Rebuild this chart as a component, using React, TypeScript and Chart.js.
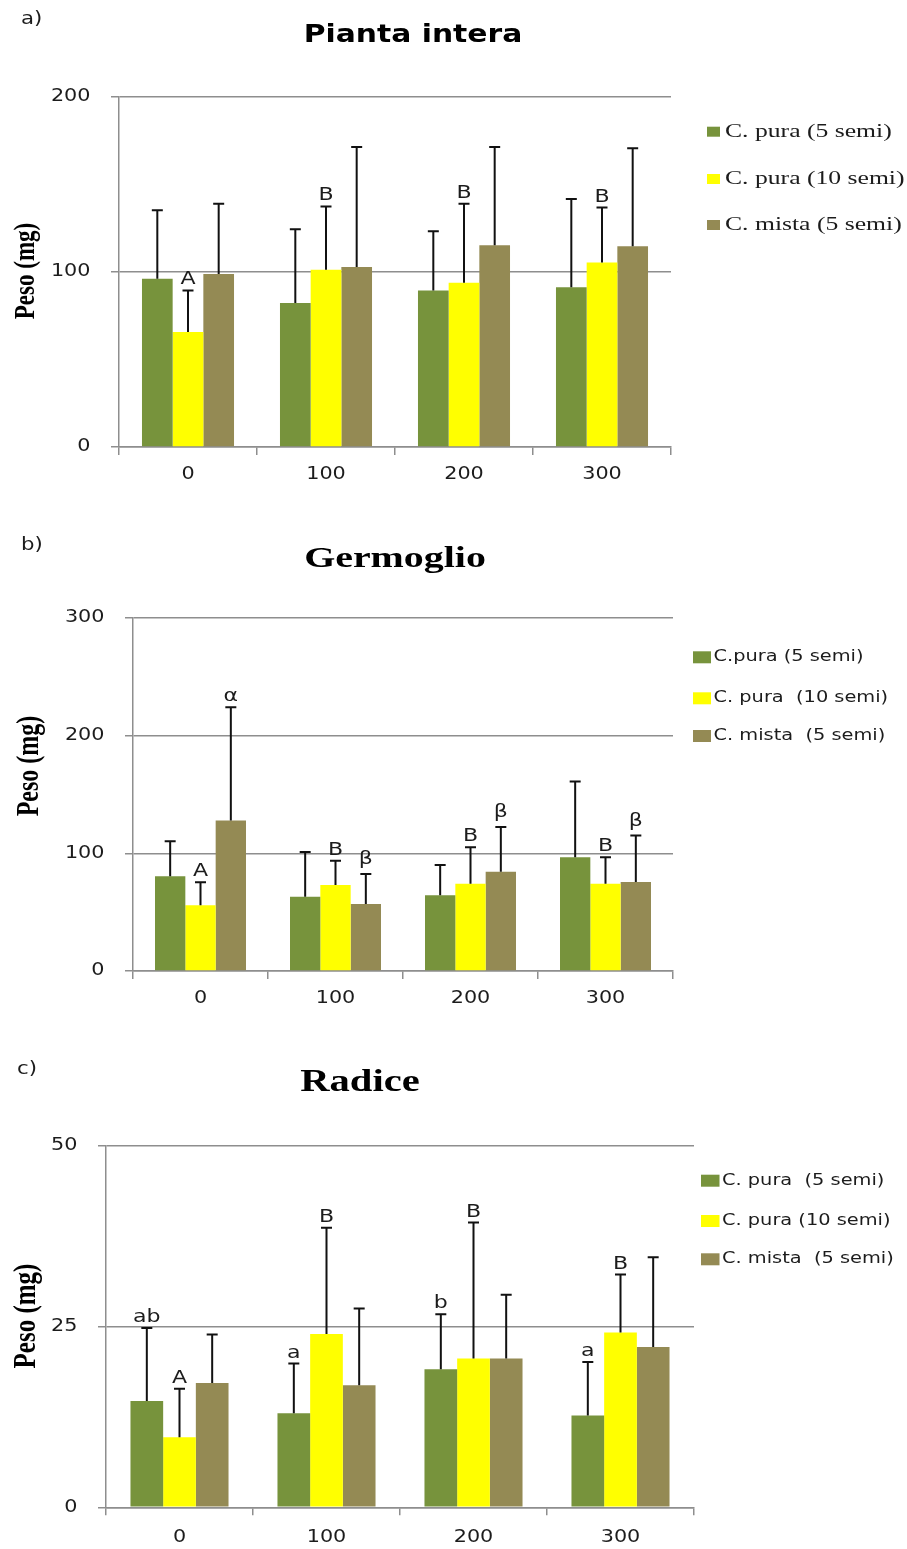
import React, { useEffect, useRef } from 'react';
import { Chart, registerables } from 'chart.js';

Chart.register(...registerables);

// Doses on the x axis
const CATEGORIES = ['0', '100', '200', '300'];

// a) Pianta intera — mean weight (mg) and standard deviation
const INTERA_PURA5 = [96.2, 82.3, 89.5, 91.3];
const INTERA_PURA5_SD = [39.1, 42.1, 33.8, 50.4];
const INTERA_PURA10 = [65.7, 101.3, 93.9, 105.4];
const INTERA_PURA10_SD = [23.8, 36.2, 45.1, 31.4];
const INTERA_MISTA = [98.9, 102.9, 115.3, 114.7];
const INTERA_MISTA_SD = [40.1, 68.5, 56.1, 56.0];
const INTERA_PURA10_LETTERS = ['A', 'B', 'B', 'B'];
const INTERA_Y_MAX = 200;
const INTERA_Y_STEP = 100;

// b) Germoglio
const GERM_PURA5 = [80.5, 63.2, 64.4, 96.7];
const GERM_PURA5_SD = [29.8, 38.0, 25.7, 64.3];
const GERM_PURA10 = [55.9, 73.1, 74.2, 74.2];
const GERM_PURA10_SD = [19.5, 20.7, 31.0, 22.5];
const GERM_MISTA = [127.8, 57.0, 84.4, 75.7];
const GERM_MISTA_SD = [96.4, 25.5, 38.0, 39.4];
const GERM_PURA10_LETTERS = ['A', 'B', 'B', 'B'];
const GERM_MISTA_LETTERS = ['α', 'β', 'β', 'β'];
const GERM_Y_MAX = 300;
const GERM_Y_STEP = 100;

// c) Radice
const RAD_PURA5 = [14.7, 13.0, 19.1, 12.7];
const RAD_PURA5_SD = [10.1, 6.9, 7.6, 7.4];
const RAD_PURA10 = [9.7, 24.0, 20.6, 24.2];
const RAD_PURA10_SD = [6.7, 14.7, 18.8, 8.0];
const RAD_MISTA = [17.2, 16.9, 20.6, 22.2];
const RAD_MISTA_SD = [6.7, 10.6, 8.8, 12.4];
const RAD_PURA5_LETTERS = ['ab', 'a', 'b', 'a'];
const RAD_PURA10_LETTERS = ['A', 'B', 'B', 'B'];
const RAD_Y_MAX = 50;
const RAD_Y_STEP = 25;

// Series names as written in each legend
const NAMES_A = ['C. pura (5 semi)', 'C. pura (10 semi)', 'C. mista (5 semi)'];
const NAMES_B = ['C.pura (5 semi)', 'C. pura  (10 semi)', 'C. mista  (5 semi)'];
const NAMES_C = ['C. pura  (5 semi)', 'C. pura (10 semi)', 'C. mista  (5 semi)'];

const COLORS = ['#77933C', '#FFFF00', '#948A54'];
const GRID = '#8e8e8e';
const INK = '#1c1c1c';
const W = 907;

const SANS = '"DejaVu Sans", sans-serif';
const SERIF = '"Liberation Serif", "DejaVu Serif", serif';

function drawText(
  ctx: CanvasRenderingContext2D,
  text: string,
  x: number,
  y: number,
  font: string,
  sx: number,
  align: 'left' | 'center' | 'right',
  baseline: CanvasTextBaseline,
  color: string
) {
  ctx.save();
  ctx.font = font;
  ctx.fillStyle = color;
  ctx.textBaseline = baseline;
  ctx.textAlign = 'left';
  const w = ctx.measureText(text).width * sx;
  const x0 = align === 'left' ? x : align === 'center' ? x - w / 2 : x - w;
  ctx.translate(x0, y);
  ctx.scale(sx, 1);
  ctx.fillText(text, 0, 0);
  ctx.restore();
}

const LETTER_FONT = `17px ${SANS}`;

// Error bars, significance letters, axis labels, titles and legend
const panelDecor = {
  id: 'panelDecor',
  afterDatasetsDraw(chart: any) {
    const ctx = chart.ctx as CanvasRenderingContext2D;
    const ys = chart.scales.y;
    chart.data.datasets.forEach((ds: any, i: number) => {
      const meta = chart.getDatasetMeta(i);
      meta.data.forEach((bar: any, j: number) => {
        const top = ys.getPixelForValue(ds.data[j] + ds.sd[j]);
        ctx.save();
        ctx.strokeStyle = '#111';
        ctx.lineWidth = 2;
        ctx.beginPath();
        ctx.moveTo(bar.x, bar.y);
        ctx.lineTo(bar.x, top);
        ctx.moveTo(bar.x - 5.5, top);
        ctx.lineTo(bar.x + 5.5, top);
        ctx.stroke();
        ctx.restore();
        const letter = ds.letters ? ds.letters[j] : '';
        if (letter) {
          ctx.save();
          ctx.font = LETTER_FONT;
          ctx.textBaseline = 'alphabetic';
          const desc = Math.max(0, ctx.measureText(letter).actualBoundingBoxDescent);
          ctx.restore();
          drawText(ctx, letter, bar.x, top - 6 - desc, LETTER_FONT, 1.3, 'center', 'alphabetic', INK);
        }
      });
    });
  },
  afterDraw(chart: any, _args: any, o: any) {
    const ctx = chart.ctx as CanvasRenderingContext2D;
    const ca = chart.chartArea;
    const ys = chart.scales.y;
    const xs = chart.scales.x;

    // tick labels
    ys.ticks.forEach((t: any) => {
      drawText(ctx, String(t.value), ca.left - 28.5, ys.getPixelForValue(t.value), `17px ${SANS}`, 1.22, 'right', 'middle', INK);
    });
    chart.data.labels.forEach((lab: string, i: number) => {
      drawText(ctx, lab, xs.getPixelForValue(i), ca.bottom + o.xTickGap, `17px ${SANS}`, 1.22, 'center', 'middle', INK);
    });

    // panel letter
    drawText(ctx, o.panel, o.panelX, o.panelY, `17px ${SANS}`, 1.25, 'left', 'middle', INK);

    // title
    drawText(ctx, o.title, o.titleX, o.titleY, o.titleFont, o.titleSx, 'center', 'alphabetic', '#000');

    // y-axis label, rotated
    ctx.save();
    ctx.translate(o.yLabelX, o.yLabelY);
    ctx.scale(1.3, 1);
    ctx.rotate(-Math.PI / 2);
    ctx.font = o.yLabelFont;
    ctx.fillStyle = '#000';
    ctx.textAlign = 'center';
    ctx.textBaseline = 'middle';
    ctx.fillText('Peso (mg)', 0, 0);
    ctx.restore();

    // legend
    chart.data.datasets.forEach((ds: any, i: number) => {
      const cy = o.legendY[i];
      ctx.fillStyle = ds.backgroundColor;
      ctx.fillRect(o.legendBoxX, cy - o.legendBoxH / 2, o.legendBoxW, o.legendBoxH);
      drawText(ctx, ds.label, o.legendTextX, cy, o.legendFont, o.legendSx, 'left', 'middle', INK);
    });
  },
};

type PanelSpec = {
  top: number;
  height: number;
  area: { left: number; right: number; top: number; bottom: number };
  yMax: number;
  yStep: number;
  names: string[];
  values: number[][];
  sds: number[][];
  letters: (string[] | null)[];
  barGroup: number;
  decor: any;
};

const PANELS: PanelSpec[] = [
  {
    top: 0,
    height: 510,
    area: { left: 119, right: 671, top: 97, bottom: 447 },
    yMax: INTERA_Y_MAX,
    yStep: INTERA_Y_STEP,
    names: NAMES_A,
    values: [INTERA_PURA5, INTERA_PURA10, INTERA_MISTA],
    sds: [INTERA_PURA5_SD, INTERA_PURA10_SD, INTERA_MISTA_SD],
    letters: [null, INTERA_PURA10_LETTERS, null],
    barGroup: 0.667,
    decor: {
      panel: 'a)', panelX: 21, panelY: 20,
      title: 'Pianta intera', titleX: 413, titleY: 42, titleFont: `bold 24px ${SANS}`, titleSx: 1.24,
      yLabelX: 26, yLabelY: 271, yLabelFont: `bold 23px ${SERIF}`,
      xTickGap: 28,
      legendY: [131.7, 179, 225], legendBoxX: 707, legendBoxW: 13, legendBoxH: 10,
      legendTextX: 725, legendFont: `19px ${SERIF}`, legendSx: 1.35,
    },
  },
  {
    top: 510,
    height: 520,
    area: { left: 133, right: 673, top: 108, bottom: 461 },
    yMax: GERM_Y_MAX,
    yStep: GERM_Y_STEP,
    names: NAMES_B,
    values: [GERM_PURA5, GERM_PURA10, GERM_MISTA],
    sds: [GERM_PURA5_SD, GERM_PURA10_SD, GERM_MISTA_SD],
    letters: [null, GERM_PURA10_LETTERS, GERM_MISTA_LETTERS],
    barGroup: 0.674,
    decor: {
      panel: 'b)', panelX: 21, panelY: 36,
      title: 'Germoglio', titleX: 395, titleY: 56.7, titleFont: `bold 30px ${SERIF}`, titleSx: 1.33,
      yLabelX: 30, yLabelY: 256, yLabelFont: `bold 24px ${SERIF}`,
      xTickGap: 28,
      legendY: [147.3, 188.3, 226], legendBoxX: 693, legendBoxW: 18, legendBoxH: 12,
      legendTextX: 713.5, legendFont: `16px ${SANS}`, legendSx: 1.21,
    },
  },
  {
    top: 1030,
    height: 519,
    area: { left: 106, right: 694, top: 116, bottom: 477.3 },
    yMax: RAD_Y_MAX,
    yStep: RAD_Y_STEP,
    names: NAMES_C,
    values: [RAD_PURA5, RAD_PURA10, RAD_MISTA],
    sds: [RAD_PURA5_SD, RAD_PURA10_SD, RAD_MISTA_SD],
    letters: [RAD_PURA5_LETTERS, RAD_PURA10_LETTERS, null],
    barGroup: 0.667,
    decor: {
      panel: 'c)', panelX: 17, panelY: 40,
      title: 'Radice', titleX: 360, titleY: 60.7, titleFont: `bold 31px ${SERIF}`, titleSx: 1.31,
      yLabelX: 27, yLabelY: 286, yLabelFont: `bold 25px ${SERIF}`,
      xTickGap: 30,
      legendY: [150.7, 191, 229.3], legendBoxX: 701, legendBoxW: 18.5, legendBoxH: 12,
      legendTextX: 722, legendFont: `16px ${SANS}`, legendSx: 1.21,
    },
  },
];

function makeConfig(p: PanelSpec): any {
  const a = p.area;
  return {
    type: 'bar',
    data: {
      labels: CATEGORIES,
      datasets: p.values.map((vals, i) => ({
        label: p.names[i],
        data: vals,
        sd: p.sds[i],
        letters: p.letters[i],
        backgroundColor: COLORS[i],
        borderWidth: 0,
        categoryPercentage: p.barGroup,
        barPercentage: 1,
      })),
    },
    options: {
      responsive: false,
      maintainAspectRatio: false,
      animation: false,
      events: [],
      layout: { padding: { left: 0, right: W - a.right, top: a.top, bottom: 0 } },
      plugins: {
        legend: { display: false },
        title: { display: false },
        tooltip: { enabled: false },
        panelDecor: p.decor,
      },
      scales: {
        x: {
          ticks: { display: false },
          grid: { drawOnChartArea: false, drawTicks: true, tickLength: 8, offset: true, color: GRID, lineWidth: 1.5 },
          border: { display: true, color: GRID, width: 1.5 },
          afterFit: (s: any) => { s.height = p.height - a.bottom; },
        },
        y: {
          min: 0,
          max: p.yMax,
          ticks: { display: false, stepSize: p.yStep },
          grid: { drawTicks: true, tickLength: 8, color: GRID, lineWidth: 1.5 },
          border: { display: true, color: GRID, width: 1.5 },
          afterFit: (s: any) => { s.width = a.left; },
        },
      },
    },
    plugins: [panelDecor],
  };
}

export default function App() {
  const refs = [useRef<HTMLCanvasElement>(null), useRef<HTMLCanvasElement>(null), useRef<HTMLCanvasElement>(null)];

  useEffect(() => {
    const charts = PANELS.map((p, i) => new Chart(refs[i].current as HTMLCanvasElement, makeConfig(p)));
    return () => charts.forEach((c) => c.destroy());
  }, []);

  return (
    <div style={{ position: 'absolute', left: 0, top: 0, width: W, height: 1549, overflow: 'hidden', background: '#fff' }}>
      {PANELS.map((p, i) => (
        <canvas
          key={i}
          ref={refs[i]}
          width={W}
          height={p.height}
          style={{ position: 'absolute', left: 0, top: p.top, width: W, height: p.height }}
        />
      ))}
    </div>
  );
}
